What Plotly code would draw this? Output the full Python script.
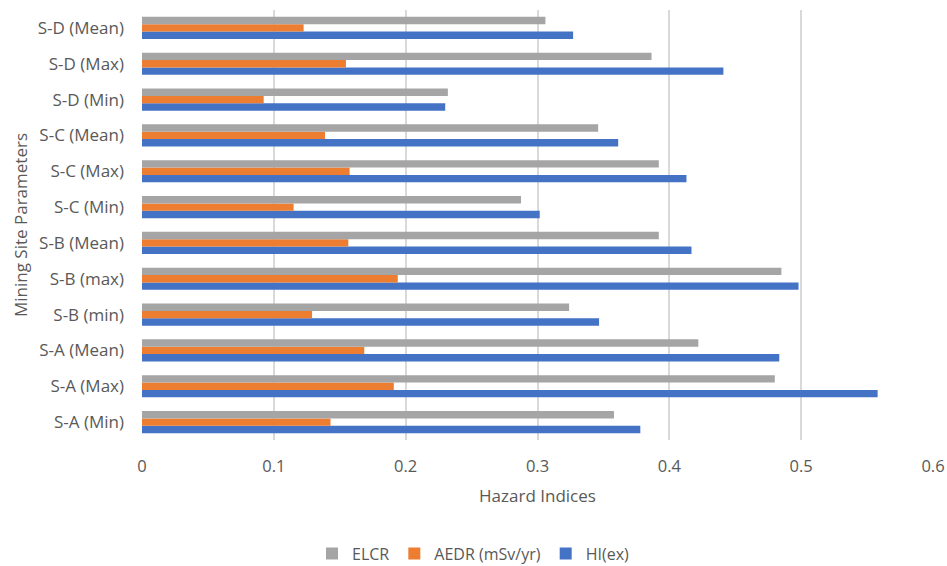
import plotly.graph_objects as go

# Mining site parameters (bottom to top on the category axis)
sites = [
    "S-A (Min)", "S-A (Max)", "S-A (Mean)",
    "S-B (min)", "S-B (max)", "S-B (Mean)",
    "S-C (Min)", "S-C (Max)", "S-C (Mean)",
    "S-D (Min)", "S-D (Max)", "S-D (Mean)",
]

elcr = [0.358, 0.480, 0.422, 0.324, 0.485, 0.392, 0.2875, 0.392, 0.346, 0.232, 0.3865, 0.306]
aedr = [0.143, 0.191, 0.1686, 0.129, 0.194, 0.1565, 0.115, 0.1575, 0.1388, 0.0923, 0.1547, 0.1226]
hi_ex = [0.378, 0.558, 0.4834, 0.3467, 0.498, 0.4168, 0.3017, 0.413, 0.3612, 0.230, 0.441, 0.327]

x_ticks = [0, 0.1, 0.2, 0.3, 0.4, 0.5, 0.6]
x_tick_text = ["0", "0.1", "0.2", "0.3", "0.4", "0.5", "0.6"]

FONT = "Open Sans"
TEXT = "#595959"

fig = go.Figure()
# Plotly stacks grouped horizontal bars bottom-up in trace order
fig.add_trace(go.Bar(y=sites, x=hi_ex, name="HI(ex)", orientation="h",
                     marker=dict(color="#4472C4", line=dict(width=0)), legendrank=3))
fig.add_trace(go.Bar(y=sites, x=aedr, name="AEDR (mSv/yr)", orientation="h",
                     marker=dict(color="#ED7D31", line=dict(width=0)), legendrank=2))
fig.add_trace(go.Bar(y=sites, x=elcr, name="ELCR", orientation="h",
                     marker=dict(color="#A5A5A5", line=dict(width=0)), legendrank=1))

fig.update_layout(
    width=947, height=566,
    margin=dict(l=142, r=14, t=10, b=126),
    paper_bgcolor="white", plot_bgcolor="white",
    barmode="group", bargap=0.38, bargroupgap=0,
    font=dict(family=FONT, size=16, color=TEXT),
    showlegend=True,
    legend=dict(orientation="h", x=0.50, xref="container", xanchor="center",
                y=0.022, yref="container", yanchor="middle",
                font=dict(size=16, color=TEXT), itemwidth=30, tracegroupgap=0),
    xaxis=dict(range=[0, 0.6], tickvals=x_ticks, ticktext=x_tick_text,
               showgrid=True, gridcolor="#D9D9D9", gridwidth=1.5,
               zeroline=False, showline=False, ticks="", automargin=False,
               ticklabelstandoff=14, tickfont=dict(size=16.5, color=TEXT),
               title=dict(text="Hazard Indices", font=dict(size=17, color=TEXT), standoff=14)),
    yaxis=dict(categoryorder="array", categoryarray=sites, automargin=False,
               showgrid=False, zeroline=False, showline=False, ticks="",
               ticklabelstandoff=17, tickfont=dict(size=17, color=TEXT),
               title=dict(text="Mining Site Parameters", font=dict(size=17, color=TEXT), standoff=5)),
)

fig.write_html("out.html")
